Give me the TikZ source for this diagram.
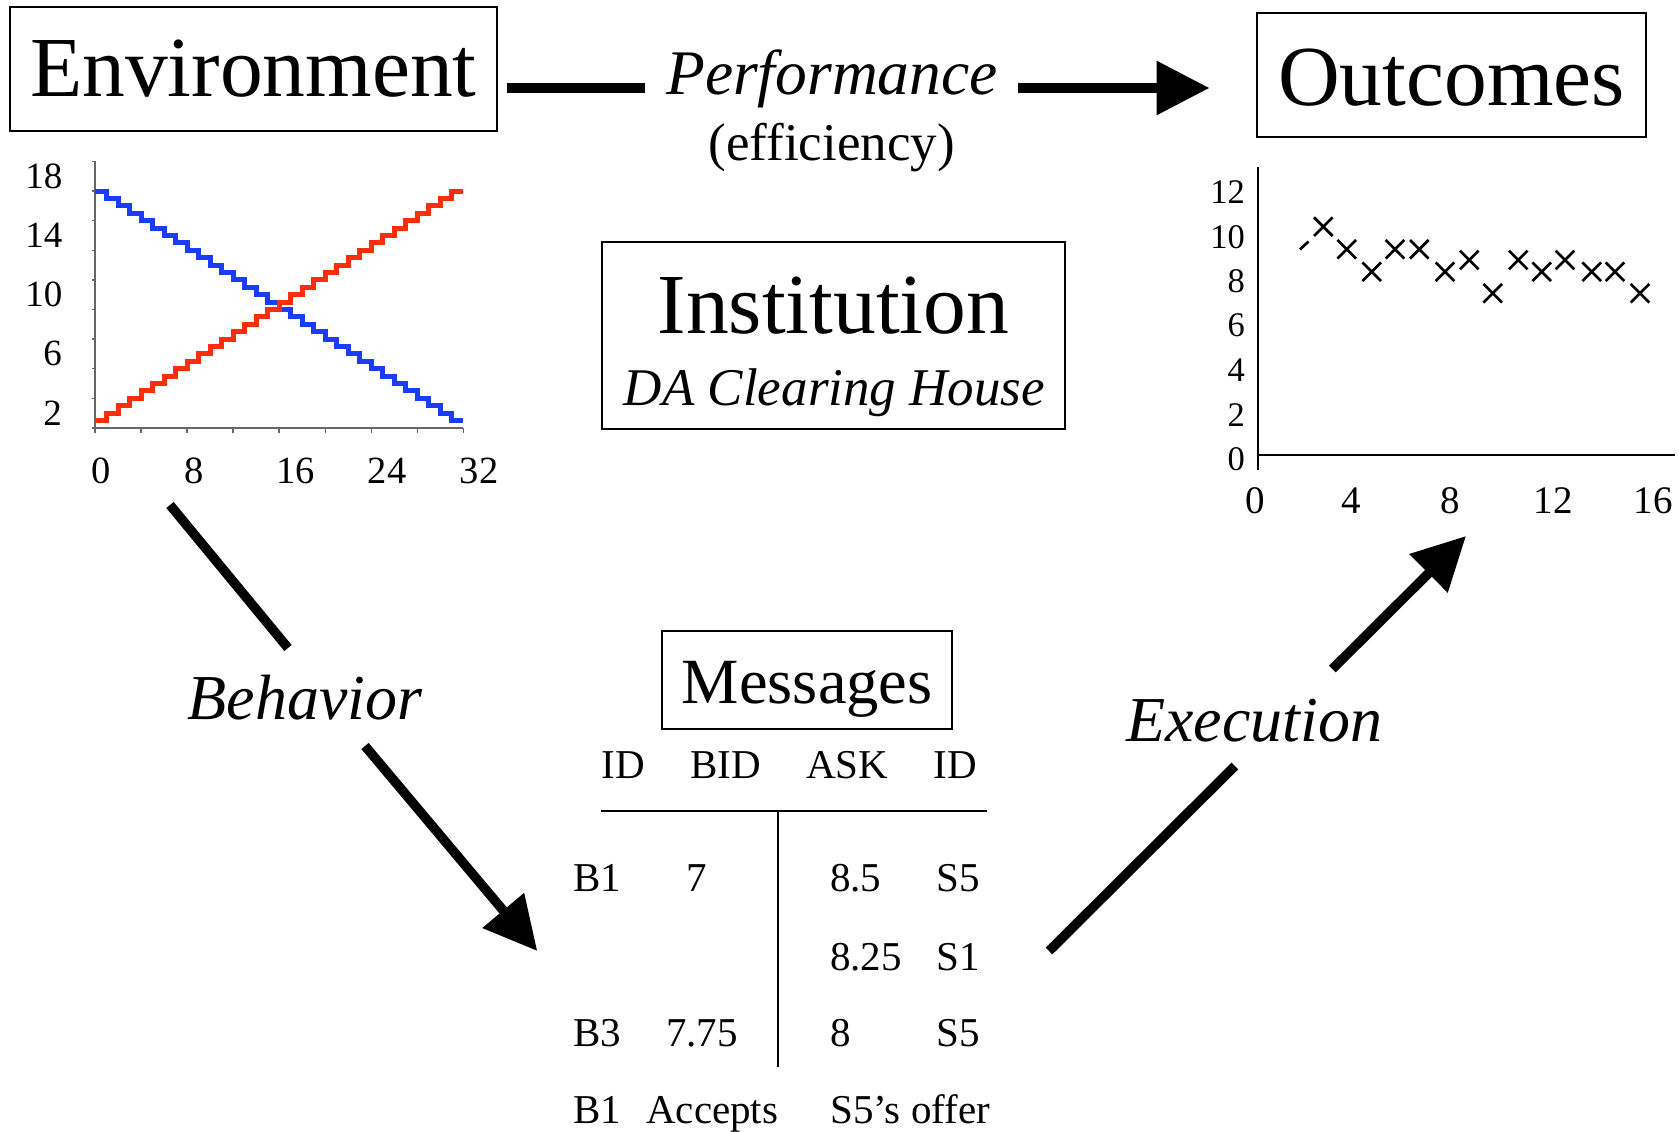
\documentclass[tikz,border=0pt]{standalone}
\usepackage{fontspec}
\setmainfont{Liberation Serif}
\usetikzlibrary{arrows.meta}
\definecolor{stepblue}{RGB}{25,60,255}
\definecolor{stepred}{RGB}{255,45,10}
\begin{document}
\begin{tikzpicture}[x=1pt,y=-1pt,
  box/.style={draw, line width=2pt, inner sep=0pt, anchor=base},
  bigfont/.style={font=\fontsize{85.5}{100}\selectfont},
  lbl/.style={inner sep=0pt, anchor=base, font=\fontsize{64}{76}\selectfont\itshape},
  shaft/.style={line width=9.5pt},
  bigarrow/.style={line width=9.5pt, -{Triangle[length=53pt,width=52pt]}},
  laxis/.style={black!60, line width=1.4pt},
  raxis/.style={black, line width=2pt},
  ltick/.style={inner sep=0pt, font=\fontsize{37}{44}\selectfont},
  rtick/.style={inner sep=0pt, font=\fontsize{34.5}{41}\selectfont},
  xtick/.style={inner sep=0pt, anchor=base, font=\fontsize{39}{46}\selectfont},
  tbl/.style={inner sep=0pt, font=\fontsize{41}{49}\selectfont},
  stair/.style={line width=5pt},
  xmark/.style={line width=2.7pt},
  rule/.style={line width=2pt}]
\useasboundingbox (0,0) rectangle (1679,1132);
\fill[white] (0,0) rectangle (1679,1132);

% ---------- main boxes ----------
\node[box, bigfont, minimum width=486.7pt, text height=89.4pt, text depth=34pt]
  (env) at (253.3,96.7) {Environment};
\node[box, bigfont, minimum width=388.4pt, text height=92.3pt, text depth=31.7pt]
  (out) at (1451.5,105) {Outcomes};
\node[box, bigfont, minimum width=463.3pt, text height=91.6pt, text depth=95.7pt]
  (inst) at (833.35,333.3) {Institution};
\node[inner sep=0pt, anchor=base, font=\fontsize{53}{63}\selectfont\itshape]
  (instsub) at (834.5,405) {DA Clearing House};
\node[box, font=\fontsize{64.5}{77}\selectfont, minimum width=290pt, text height=72pt, text depth=26.3pt]
  (msg) at (807.3,703) {Messages};

% ---------- Performance arrow ----------
\node[lbl, font=\fontsize{63.5}{76}\selectfont\itshape] (perf) at (832,95) {Performance};
\node[inner sep=0pt, anchor=base, font=\fontsize{53}{63}\selectfont] (eff) at (831.7,160) {(efficiency)};
\coordinate (p1) at (506.7,88);
\coordinate (p2) at (645,88);
\coordinate (p3) at (1018,88);
\coordinate (p4) at (1209.5,88);
\draw[shaft] (p1) -- (p2);
\draw[bigarrow] (p3) -- (p4);

% ---------- Behavior arrow ----------
\node[lbl] (beh) at (305,719) {Behavior};
\coordinate (b1) at (170,505);
\coordinate (b2) at (288,648);
\coordinate (b3) at (365,746);
\coordinate (b4) at (537.3,951);
\draw[shaft] (b1) -- (b2);
\draw[bigarrow] (b3) -- (b4);

% ---------- Execution arrow ----------
\node[lbl] (exe) at (1254,741) {Execution};
\coordinate (e1) at (1049,951);
\coordinate (e2) at (1234.9,766);
\coordinate (e3) at (1332.4,669);
\coordinate (e4) at (1466,536);
\draw[shaft] (e1) -- (e2);
\draw[bigarrow] (e3) -- (e4);

% ---------- left chart ----------
\draw[laxis] (95,161.5) -- (95,428) -- (463.3,428);
\foreach \v in {0,2,...,18} \draw[laxis] (91.5,{428-14.81*\v}) -- (96,{428-14.81*\v});
\foreach \u in {0,4,...,32} \draw[laxis] ({95+11.51*\u},428) -- ({95+11.51*\u},433);
\draw[stair, stepblue] (95,191) -- ++(11.51,0)
  \foreach \k in {1,...,31} { -- ++(0,7.405) -- ++(11.51,0) };
\draw[stair, stepred] (95,420.6) -- ++(11.51,0)
  \foreach \k in {1,...,31} { -- ++(0,-7.405) -- ++(11.51,0) };
\node[ltick, anchor=base east] (ly18) at (62.5,188.3) {18};
\node[ltick, anchor=base east] (ly14) at (62.5,247.3) {14};
\node[ltick, anchor=base east] (ly10) at (62.5,306.7) {10};
\node[ltick, anchor=base east] (ly6) at (62,365) {6};
\node[ltick, anchor=base east] (ly2) at (62,425) {2};
\node[xtick, font=\fontsize{38.5}{46}\selectfont] (lx0) at (100.7,483.3) {0};
\node[xtick, font=\fontsize{38.5}{46}\selectfont] (lx8) at (193.7,483.3) {8};
\node[xtick, font=\fontsize{38.5}{46}\selectfont] (lx16) at (295.8,483.3) {16};
\node[xtick, font=\fontsize{38.5}{46}\selectfont] (lx24) at (387,483.3) {24};
\node[xtick, font=\fontsize{38.5}{46}\selectfont] (lx32) at (479.2,483.3) {32};

% ---------- right chart ----------
\draw[raxis] (1258.3,167.3) -- (1258.3,470);
\draw[raxis] (1258.3,455) -- (1675,455);
\node[rtick, anchor=base east] (ry12) at (1245,203.3) {12};
\node[rtick, anchor=base east] (ry10) at (1245,248.3) {10};
\node[rtick, anchor=base east] (ry8) at (1245,292.7) {8};
\node[rtick, anchor=base east] (ry6) at (1245,336.7) {6};
\node[rtick, anchor=base east] (ry4) at (1245,381.7) {4};
\node[rtick, anchor=base east] (ry2) at (1245,426.7) {2};
\node[rtick, anchor=base east] (ry0) at (1245,470) {0};
\node[xtick] (rx0) at (1255,513.3) {0};
\node[xtick] (rx4) at (1351.2,513.3) {4};
\node[xtick] (rx8) at (1450,513.3) {8};
\node[xtick] (rx12) at (1553.3,513.3) {12};
\node[xtick] (rx16) at (1653.3,513.3) {16};
\draw[xmark] (1300,249.5) -- (1308.5,241.5);
\foreach \px/\py in {1323.3/226.7, 1346.7/249.3, 1371.7/271.7, 1395/249.3,
    1419.3/249.3, 1445/271.7, 1469.3/260, 1492.7/293.3, 1518.3/260,
    1541.7/271.7, 1565/260, 1591.7/271.7, 1615/271.7, 1640/293.3}
  \draw[xmark] (\px,\py) +(-9.3,-9.3) -- +(9.3,9.3) +(-9.3,9.3) -- +(9.3,-9.3);

% ---------- message table ----------
\node[tbl, anchor=base] (hid1) at (623.3,778.3) {ID};
\node[tbl, anchor=base] (hbid) at (725.7,778.3) {BID};
\node[tbl, anchor=base] (hask) at (847.3,778.3) {ASK};
\node[tbl, anchor=base] (hid2) at (955,778.3) {ID};
\coordinate (hl1) at (601,810.7);
\coordinate (hl2) at (986.7,810.7);
\coordinate (vl1) at (777.7,810.7);
\coordinate (vl2) at (777.7,1066.7);
\draw[rule] (hl1) -- (hl2);
\draw[rule] (vl1) -- (vl2);
\node[tbl, anchor=base west] (r1a) at (573.3,891.7) {B1};
\node[tbl, anchor=base] (r1b) at (696.7,891.7) {7};
\node[tbl, anchor=base west] (r1c) at (830,891.7) {8.5};
\node[tbl, anchor=base west] (r1d) at (936,891.7) {S5};
\node[tbl, anchor=base west] (r2c) at (830,970) {8.25};
\node[tbl, anchor=base west] (r2d) at (936,970) {S1};
\node[tbl, anchor=base west] (r3a) at (573.3,1046.7) {B3};
\node[tbl, anchor=base west] (r3b) at (666,1046.7) {7.75};
\node[tbl, anchor=base west] (r3c) at (830,1046.7) {8};
\node[tbl, anchor=base west] (r3d) at (936,1046.7) {S5};
\node[tbl, anchor=base west] (r4a) at (573.3,1123) {B1};
\node[tbl, anchor=base west] (r4b) at (646,1123) {Accepts};
\node[tbl, anchor=base west] (r4c) at (830,1123) {S5’s offer};
\end{tikzpicture}
\end{document}
